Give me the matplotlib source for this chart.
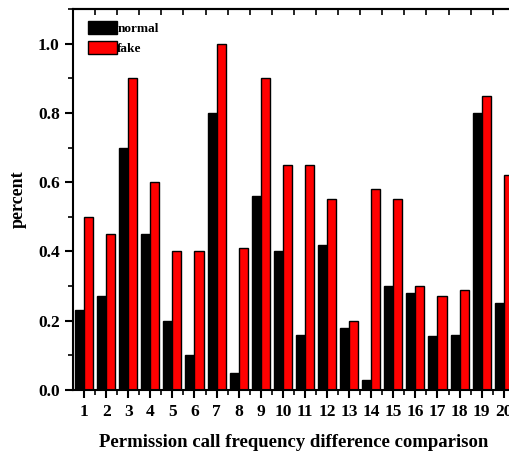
import matplotlib
matplotlib.use("Agg")
import matplotlib.pyplot as plt
import numpy as np
from matplotlib.patches import Patch
from matplotlib.ticker import MultipleLocator, FixedLocator

# data
categories = list(range(1, 21))
normal = [0.23, 0.27, 0.70, 0.45, 0.20, 0.10, 0.80, 0.05, 0.56, 0.40,
          0.16, 0.42, 0.18, 0.03, 0.30, 0.28, 0.155, 0.16, 0.80, 0.25]
fake = [0.50, 0.45, 0.90, 0.60, 0.40, 0.40, 1.00, 0.41, 0.90, 0.65,
        0.65, 0.55, 0.20, 0.58, 0.55, 0.30, 0.27, 0.29, 0.85, 0.62]
y_ticks = [0.0, 0.2, 0.4, 0.6, 0.8, 1.0]

plt.rcParams["font.family"] = ["Liberation Serif", "DejaVu Serif"]
plt.rcParams["font.weight"] = "bold"

fig = plt.figure(figsize=(5.09, 4.55), dpi=100)
# right edge of the axes runs past the figure, as in the reference
ax = fig.add_axes([0.1434, 0.1429, 0.868, 0.8373])

x = np.array(categories, dtype=float)
w = 0.41
ax.bar(x - w / 2, normal, width=w, color="black", edgecolor="black",
       linewidth=1, label="normal")
ax.bar(x + w / 2, fake, width=w, color="#ff0000", edgecolor="black",
       linewidth=1, label="fake")

ax.set_xlim(0.5, 20.5)
ax.set_ylim(0, 1.1)

ax.set_xticks(categories)
ax.set_xticklabels([str(c) for c in categories], fontsize=12.5, fontweight="bold")
ax.xaxis.set_minor_locator(FixedLocator(x + 0.5))
ax.set_yticks(y_ticks)
ax.set_yticklabels([f"{v:.1f}" for v in y_ticks], fontsize=12.5, fontweight="bold")
ax.yaxis.set_minor_locator(MultipleLocator(0.1))

ax.tick_params(axis="both", which="major", direction="out", length=6, width=1.5)
ax.tick_params(axis="both", which="minor", direction="out", length=3.5, width=1.2)
ax.tick_params(axis="x", which="major", pad=4)

# top axis: short inward ticks between the groups
top = ax.secondary_xaxis("top")
top.set_xticks(x[:-1] + 0.5)
top.set_xticklabels([])
top.tick_params(direction="in", length=4, width=1.2)
top.spines["top"].set_linewidth(1.5)

for side in ["left", "bottom", "top", "right"]:
    ax.spines[side].set_linewidth(1.5)

ax.set_xlabel("Permission call frequency difference comparison",
              fontsize=13.5, fontweight="bold", labelpad=10)
ax.set_ylabel("percent", fontsize=13, fontweight="bold", labelpad=8)

handles = [Patch(facecolor="black", edgecolor="black", label="normal"),
           Patch(facecolor="#ff0000", edgecolor="black", label="fake")]
ax.legend(handles=handles, loc="upper left", bbox_to_anchor=(0.018, 0.985),
          frameon=False, handlelength=2.2, handleheight=1.1,
          handletextpad=0.05, borderpad=0, labelspacing=0.45,
          prop={"weight": "bold", "size": 9.5})

fig.savefig("out.png", dpi=100)
